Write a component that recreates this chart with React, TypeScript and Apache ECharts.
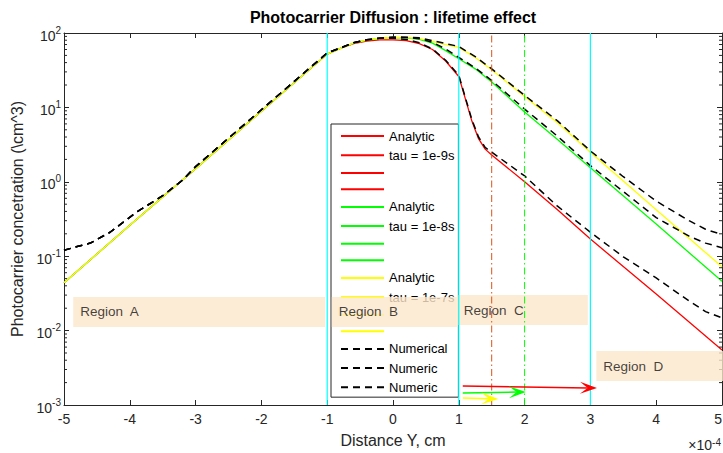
import React, { useEffect, useRef } from 'react';
import * as echarts from 'echarts';

const FONT = "'Liberation Sans', Arial, Helvetica, sans-serif";
const AXIS = '#262626';
const RED = '#FF0000';
const GREEN = '#00FF00';
const YELLOW = '#FFFF00';

// Distance values are in units of 1e-4 cm; concentrations in cm^-3 (log axis).
const X_MIN = -5;
const X_MAX = 5;
const Y_MIN = 0.001;
const Y_MAX = 100;
const decadeTicks = [0.001, 0.01, 0.1, 1, 10, 100];
const minorTicks = [
  0.002, 0.003, 0.004, 0.005, 0.006, 0.007, 0.008, 0.009,
  0.02, 0.03, 0.04, 0.05, 0.06, 0.07, 0.08, 0.09,
  0.2, 0.3, 0.4, 0.5, 0.6, 0.7, 0.8, 0.9,
  2, 3, 4, 5, 6, 7, 8, 9,
  20, 30, 40, 50, 60, 70, 80, 90,
];

// Analytic solution, region A (identical for the three lifetimes)
const xA = [-5, -4, -3, -2, -1];
const analyticA = [0.044, 0.26, 1.5, 8.9, 52];

// Region B
const xB = [-1, -0.8, -0.6, -0.4, -0.2, 0, 0.2, 0.4, 0.6, 0.8, 1];
const redB = [52, 62, 72, 78, 81, 81, 79, 72, 60, 42, 26];
const greenB = [52, 62, 73, 80, 85, 87, 86, 82, 73, 58, 45];
const yellowB = [52, 62, 73, 80, 85, 87, 87, 84, 77, 70, 64];

// Region C
const xRedC = [1, 1.1, 1.2, 1.3, 1.4, 1.5, 2, 2.5, 3];
const redC = [26, 13, 6.5, 3.8, 2.75, 2.3, 1.0, 0.42, 0.17];
const xC = [1, 1.25, 1.5, 2, 2.5, 3];
const greenC = [45, 33, 22, 8.7, 3.7, 1.55];
const yellowC = [64, 47, 32, 14, 6.2, 2.5];

// Region D
const xD = [3, 4, 5];
const redD = [0.17, 0.031, 0.0055];
const greenD = [1.55, 0.27, 0.046];
const yellowD = [2.5, 0.42, 0.072];

// Numerical solutions
const numLeftX = [-5, -4.8, -4.6, -4.3, -3.9, -3.5, -3.2, -3, -2, -1];
const numLeft = [0.12, 0.135, 0.15, 0.21, 0.39, 0.65, 1.05, 1.6, 9.3, 54];
const numMidX = [-0.8, -0.6, -0.4, -0.2, 0, 0.2, 0.4, 0.6, 0.8, 1];
const numRedMid = [63, 74, 81, 85, 85, 82, 74, 61, 43, 27];
const numGreenMid = [63, 74, 81, 85, 88, 87, 84, 75, 61, 47];
const numYellowMid = [63, 74, 81, 85, 88, 88, 86, 79, 72, 66];
const numRedTailX = [1.1, 1.2, 1.3, 1.4, 1.5, 2, 2.5, 3, 3.5, 4, 4.5, 4.75, 5];
const numRedTail = [13.5, 6.8, 4.0, 2.9, 2.5, 1.2, 0.47, 0.21, 0.098, 0.051, 0.025, 0.018, 0.0148];
const numTailX = [1.25, 1.5, 2, 2.5, 3, 3.5, 4, 4.5, 4.75, 5];
const numGreenTail = [34, 23, 9.5, 4.1, 1.65, 0.74, 0.33, 0.186, 0.15, 0.13];
const numYellowTail = [48, 33, 14.5, 6.6, 2.6, 1.17, 0.55, 0.3, 0.23, 0.195];

const legendLabels = [
  'Analytic', 'tau = 1e-9s', '', '',
  'Analytic', 'tau = 1e-8s', '', '',
  'Analytic', 'tau = 1e-7s', '', '',
  'Numerical', 'Numeric', 'Numeric',
];

// Region boundaries and lifetime markers
const regionBounds = [-1, 1, 3];
const lifetimeMarks = [1.5, 2];

// Region annotations
const regionNames = ['Region  A', 'Region  B', 'Region  C', 'Region  D'];
const regionX = [-4.86, -0.93, 0.97, 3.09];
const regionY = [0.0178, 0.0178, 0.0189, 0.00334];

// Diffusion-length arrows
const arrowX0 = [1.06, 1.06, 1.06];
const arrowY0 = [0.0018, 0.00145, 0.00124];
const arrowX1 = [3.1, 2.02, 1.6];
const arrowY1 = [0.00169, 0.0015, 0.0012];

const zip = (xs: number[], ys: number[]) => xs.map((x, i) => [x, ys[i]]);

export default function App() {
  const ref = useRef<HTMLDivElement>(null);

  useEffect(() => {
    if (!ref.current) return;
    const chart = echarts.init(ref.current, null, { renderer: 'svg' });

    const colors = [RED, RED, RED, RED, GREEN, GREEN, GREEN, GREEN, YELLOW, YELLOW, YELLOW, YELLOW, '#000', '#000', '#000'];
    const curveData = [
      zip(xA, analyticA), zip(xB, redB), zip(xRedC, redC), zip(xD, redD),
      zip(xA, analyticA), zip(xB, greenB), zip(xC, greenC), zip(xD, greenD),
      zip(xA, analyticA), zip(xB, yellowB), zip(xC, yellowC), zip(xD, yellowD),
      [...zip(numLeftX, numLeft), ...zip(numMidX, numRedMid), ...zip(numRedTailX, numRedTail)],
      [...zip(numLeftX, numLeft), ...zip(numMidX, numGreenMid), ...zip(numTailX, numGreenTail)],
      [...zip(numLeftX, numLeft), ...zip(numMidX, numYellowMid), ...zip(numTailX, numYellowTail)],
    ];
    const keys = legendLabels.map((_, i) => `curve${i + 1}`);
    const labelOf: Record<string, string> = {};
    keys.forEach((k, i) => (labelOf[k] = legendLabels[i]));

    const curveSeries = curveData.map((data, i) => {
      const dashed = i >= 12;
      return {
        type: 'line',
        name: keys[i],
        data,
        z: 2,
        symbol: 'none',
        silent: true,
        color: colors[i],
        lineStyle: {
          color: colors[i],
          width: dashed ? 1.5 : 1.3,
          type: dashed ? [7, 5] : 'solid',
        },
        itemStyle: { color: colors[i] },
      };
    });

    const guideSeries = [
      ...regionBounds.map((x) => ({
        type: 'line', data: [[x, Y_MIN], [x, Y_MAX]], symbol: 'none', silent: true, z: 11,
        lineStyle: { color: '#00FFFF', width: 1.2 },
      })),
      ...lifetimeMarks.map((x, i) => ({
        type: 'line', data: [[x, Y_MIN], [x, Y_MAX]], symbol: 'none', silent: true, z: 11,
        lineStyle: { color: i === 0 ? '#D95319' : GREEN, width: 1, type: [7, 3, 1.5, 3] },
      })),
    ];

    // minor log ticks on the left and right frame edges
    const minorTickSeries = {
      type: 'custom',
      z: 3,
      silent: true,
      clip: false,
      data: minorTicks.map((v) => [X_MIN, v, X_MAX]),
      encode: { x: [0, 2], y: 1 },
      renderItem: (_params: any, api: any) => {
        const l = api.coord([api.value(0), api.value(1)]);
        const r = api.coord([api.value(2), api.value(1)]);
        const st = { stroke: AXIS, lineWidth: 1 };
        return {
          type: 'group',
          children: [
            { type: 'line', shape: { x1: l[0], y1: l[1], x2: l[0] + 3, y2: l[1] }, style: st },
            { type: 'line', shape: { x1: r[0], y1: r[1], x2: r[0] - 3, y2: r[1] }, style: st },
          ],
        };
      },
    };

    const regionBoxW = [252, 125, 131, 130];
    const regionSeries = {
      type: 'scatter',
      z: 10,
      silent: true,
      symbolSize: 0,
      data: regionNames.map((n, i) => ({
        name: n,
        value: [regionX[i], regionY[i]],
        label: { width: regionBoxW[i] - 14 },
      })),
      label: {
        show: true,
        position: 'right',
        distance: 0,
        formatter: '{b}',
        backgroundColor: '#FCE7CB',
        padding: [8, 7, 8, 7],
        fontSize: 13.5,
        lineHeight: 14,
        color: '#111',
        fontFamily: FONT,
      },
    };

    const arrowColors = [RED, GREEN, YELLOW];
    const arrowSeries = {
      type: 'custom',
      z: 12,
      silent: true,
      clip: false,
      data: arrowX0.map((x, i) => [x, arrowY0[i], arrowX1[i], arrowY1[i]]),
      encode: { x: [0, 2], y: [1, 3] },
      renderItem: (params: any, api: any) => {
        const a = api.coord([api.value(0), api.value(1)]);
        const b = api.coord([api.value(2), api.value(3)]);
        const dx = b[0] - a[0];
        const dy = b[1] - a[1];
        const len = Math.hypot(dx, dy) || 1;
        const ux = dx / len;
        const uy = dy / len;
        const nx = -uy;
        const ny = ux;
        const L = 17;
        const W = 6;
        const notch = [b[0] - 0.55 * L * ux, b[1] - 0.55 * L * uy];
        const c1 = [b[0] - L * ux + W * nx, b[1] - L * uy + W * ny];
        const c2 = [b[0] - L * ux - W * nx, b[1] - L * uy - W * ny];
        const color = arrowColors[params.dataIndex];
        return {
          type: 'group',
          children: [
            { type: 'line', shape: { x1: a[0], y1: a[1], x2: notch[0], y2: notch[1] }, style: { stroke: color, lineWidth: 1.5 } },
            { type: 'polygon', shape: { points: [b, c1, notch, c2] }, style: { fill: color } },
          ],
        };
      },
    };

    const axisLineStyle = { color: AXIS, width: 1 };
    const yBase = {
      type: 'log',
      logBase: 10,
      min: Y_MIN,
      max: Y_MAX,
      splitLine: { show: false },
    };

    const option = {
      animation: false,
      backgroundColor: '#fff',
      title: {
        text: 'Photocarrier Diffusion : lifetime effect',
        left: 393,
        top: 9,
        textAlign: 'center',
        padding: 0,
        textStyle: { fontFamily: FONT, fontSize: 16, fontWeight: 'bold', color: '#000' },
      },
      grid: { left: 64, right: 1, top: 33, bottom: 48, containLabel: false, outerBoundsMode: 'none' },
      xAxis: [
        {
          type: 'value', min: X_MIN, max: X_MAX, interval: 1, position: 'bottom',
          name: 'Distance Y, cm', nameLocation: 'middle', nameGap: 27,
          nameTextStyle: { fontFamily: FONT, fontSize: 16, color: AXIS },
          axisLine: { show: true, onZero: false, lineStyle: axisLineStyle },
          axisTick: { show: true, inside: true, length: 5, lineStyle: axisLineStyle },
          axisLabel: { margin: 7, fontSize: 14, color: AXIS, fontFamily: FONT, alignMaxLabel: 'right' },
          splitLine: { show: false },
        },
        {
          type: 'value', min: X_MIN, max: X_MAX, interval: 1, position: 'top',
          axisLine: { show: true, onZero: false, lineStyle: axisLineStyle },
          axisTick: { show: true, inside: true, length: 5, lineStyle: axisLineStyle },
          axisLabel: { show: false },
          splitLine: { show: false },
        },
      ],
      yAxis: [
        {
          ...yBase, position: 'left',
          name: 'Photocarrier concetration (\\cm^3)', nameLocation: 'middle', nameGap: 35,
          nameTextStyle: { fontFamily: FONT, fontSize: 16, color: AXIS },
          axisLine: { show: true, onZero: false, lineStyle: axisLineStyle },
          axisTick: { show: true, inside: true, length: 5, lineStyle: axisLineStyle, customValues: decadeTicks },
          axisLabel: {
            customValues: decadeTicks,
            margin: 3,
            color: AXIS,
            fontFamily: FONT,
            formatter: (v: number) => `{b|10}{sup|${Math.round(Math.log10(v))}}`,
            rich: {
              b: { fontSize: 14, fontFamily: FONT, color: AXIS, padding: [5, 0, 0, 0] },
              sup: { fontSize: 10, fontFamily: FONT, color: AXIS, padding: [0, 0, 6, 0] },
            },
          },
        },
        {
          ...yBase, position: 'right',
          axisLine: { show: true, onZero: false, lineStyle: axisLineStyle },
          axisTick: { show: true, inside: true, length: 5, lineStyle: axisLineStyle, customValues: decadeTicks },
          axisLabel: { show: false },
        },
      ],
      legend: {
        data: keys,
        formatter: (name: string) => labelOf[name],
        orient: 'vertical',
        left: 331,
        top: 124,
        padding: [5, 4, 3, 9],
        itemWidth: 43,
        itemHeight: 14,
        itemGap: 5.14,
        backgroundColor: '#fff',
        borderColor: AXIS,
        borderWidth: 1,
        selectedMode: false,
        itemStyle: { opacity: 0 },
        textStyle: { fontFamily: FONT, fontSize: 13, color: '#000', width: 65, lineHeight: 14 },
      },
      graphic: [
        {
          type: 'text',
          right: 2,
          top: 437,
          style: {
            text: '×10{sup|-4}',
            fontSize: 14,
            fontFamily: FONT,
            fill: AXIS,
            rich: { sup: { fontSize: 10, fontFamily: FONT, fill: AXIS, padding: [0, 0, 6, 0] } },
          },
        },
      ],
      series: [...curveSeries, ...guideSeries, minorTickSeries, regionSeries, arrowSeries],
    };

    chart.setOption(option as any);
    return () => chart.dispose();
  }, []);

  return <div ref={ref} style={{ position: 'absolute', left: 0, top: 0, width: 723, height: 453 }} />;
}
